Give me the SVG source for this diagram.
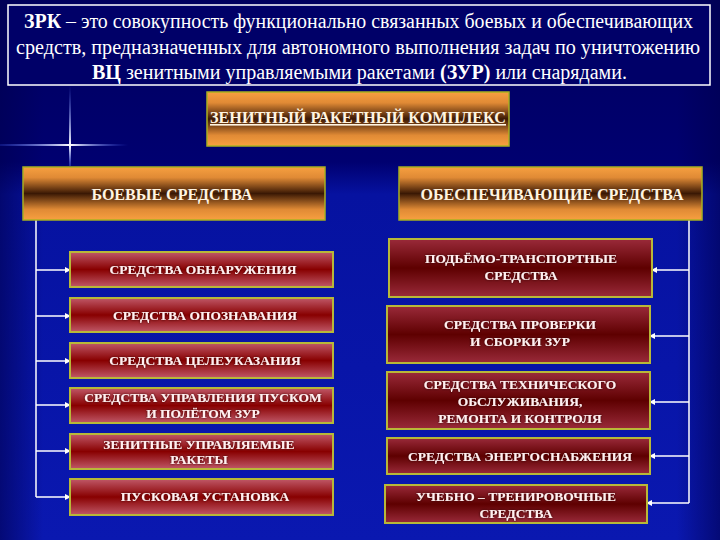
<svg xmlns="http://www.w3.org/2000/svg" width="720" height="540" viewBox="0 0 720 540">
<defs>
<linearGradient id="bg" x1="0" y1="0" x2="0" y2="1">
<stop offset="0" stop-color="#00005e"/>
<stop offset="0.3" stop-color="#000070"/>
<stop offset="0.36" stop-color="#0612a0"/>
<stop offset="1" stop-color="#0a18b0"/>
</linearGradient>
<linearGradient id="bgh" x1="0" y1="0" x2="1" y2="0">
<stop offset="0" stop-color="#000050" stop-opacity="0.6"/>
<stop offset="0.06" stop-color="#000050" stop-opacity="0"/>
<stop offset="0.94" stop-color="#000050" stop-opacity="0"/>
<stop offset="1" stop-color="#000050" stop-opacity="0.6"/>
</linearGradient>
<linearGradient id="orange" x1="0" y1="0" x2="0" y2="1">
<stop offset="0" stop-color="#f7a040"/>
<stop offset="0.2" stop-color="#e08a35"/>
<stop offset="0.5" stop-color="#3a1804"/>
<stop offset="0.8" stop-color="#e08a35"/>
<stop offset="1" stop-color="#f7a040"/>
</linearGradient>
<linearGradient id="redL" x1="0" y1="0" x2="0" y2="1">
<stop offset="0" stop-color="#c05868"/>
<stop offset="0.5" stop-color="#880000"/>
<stop offset="1" stop-color="#c05868"/>
</linearGradient>
<linearGradient id="redR" x1="0" y1="0" x2="0" y2="1">
<stop offset="0" stop-color="#9a2a3a"/>
<stop offset="0.5" stop-color="#5e0000"/>
<stop offset="1" stop-color="#9a2a3a"/>
</linearGradient>
<linearGradient id="flareV" x1="0" y1="0" x2="0" y2="1">
<stop offset="0" stop-color="#6080ff" stop-opacity="0"/>
<stop offset="0.75" stop-color="#ffffff"/>
<stop offset="1" stop-color="#6080ff" stop-opacity="0.3"/>
</linearGradient>
<linearGradient id="flareH" x1="0" y1="0" x2="1" y2="0">
<stop offset="0" stop-color="#4060ff" stop-opacity="0.2"/>
<stop offset="0.55" stop-color="#ffffff"/>
<stop offset="1" stop-color="#4060ff" stop-opacity="0"/>
</linearGradient>
<filter id="sh" x="-10%" y="-30%" width="120%" height="160%">
<feDropShadow dx="0" dy="0" stdDeviation="1" flood-color="#200000" flood-opacity="0.9"/>
</filter>
<marker id="ah" markerWidth="6" markerHeight="6" refX="5" refY="3" orient="auto" markerUnits="userSpaceOnUse">
<path d="M0,0 L6,3 L0,6 z" fill="#ffffff"/>
</marker>
</defs>
<style>
.hdr{font-family:"Liberation Serif","DejaVu Serif",serif;font-size:20px;fill:#ffffff;}
.b{font-weight:bold;}
.obox{fill:url(#orange);stroke:#a8b020;stroke-width:1.5;}
.otx{font-family:"Liberation Serif","DejaVu Serif",serif;font-size:16px;font-weight:bold;fill:#fff4e0;text-anchor:middle;}
.lbox{fill:url(#redL);stroke:#b8b838;stroke-width:2;}
.rbox{fill:url(#redR);stroke:#b8b838;stroke-width:2;}
.tx{font-family:"Liberation Serif","DejaVu Serif",serif;font-size:13.5px;font-weight:bold;fill:#fff0f0;text-anchor:middle;filter:url(#sh);}
.ln{stroke:#ffffff;stroke-width:1.5;fill:none;}
.ar{stroke:#ffffff;stroke-width:1.5;fill:none;marker-end:url(#ah);}
</style>
<rect x="0" y="0" width="720" height="540" fill="url(#bg)"/>
<rect x="0" y="0" width="720" height="540" fill="url(#bgh)"/>
<g id="flare">
<rect x="69" y="86" width="2" height="80" fill="url(#flareV)"/>
<rect x="0" y="144" width="128" height="2" fill="url(#flareH)"/>
</g>
<g id="header">
<rect x="8" y="5" width="702" height="80" fill="#000068" stroke="#ffffff" stroke-width="1.5"/>
<text class="hdr" x="24" y="28" textLength="669" lengthAdjust="spacingAndGlyphs"><tspan class="b">ЗРК</tspan> – это совокупность функционально связанных боевых и обеспечивающих</text>
<text class="hdr" x="16" y="54" textLength="684" lengthAdjust="spacingAndGlyphs">средств, предназначенных для автономного выполнения задач по уничтожению</text>
<text class="hdr" x="92" y="79" textLength="535" lengthAdjust="spacingAndGlyphs"><tspan class="b">ВЦ</tspan> зенитными управляемыми ракетами <tspan class="b">(ЗУР)</tspan> или снарядами.</text>
</g>
<g id="connectors">
<line class="ln" x1="36" y1="220" x2="36" y2="497"/>
<line class="ar" x1="36" y1="270" x2="70" y2="270"/>
<line class="ar" x1="36" y1="316" x2="70" y2="316"/>
<line class="ar" x1="36" y1="361" x2="70" y2="361"/>
<line class="ar" x1="36" y1="405" x2="70" y2="405"/>
<line class="ar" x1="36" y1="451" x2="70" y2="451"/>
<line class="ar" x1="36" y1="497" x2="70" y2="497"/>
<line class="ln" x1="689" y1="220" x2="689" y2="503"/>
<line class="ar" x1="689" y1="270" x2="652" y2="270"/>
<line class="ar" x1="689" y1="336" x2="650" y2="336"/>
<line class="ar" x1="689" y1="402" x2="650" y2="402"/>
<line class="ar" x1="689" y1="456" x2="650" y2="456"/>
<line class="ar" x1="689" y1="503" x2="647" y2="503"/>
</g>
<g id="n-zrk">
<rect class="obox" x="207" y="92" width="302" height="54"/>
<text class="otx" x="358" y="123" text-decoration="underline" textLength="296" lengthAdjust="spacingAndGlyphs">ЗЕНИТНЫЙ РАКЕТНЫЙ КОМПЛЕКС</text>
</g>
<g id="n-boevye">
<rect class="obox" x="23" y="167" width="302" height="53"/>
<text class="otx" x="172" y="200">БОЕВЫЕ СРЕДСТВА</text>
</g>
<g id="n-obesp">
<rect class="obox" x="399" y="167" width="303" height="53"/>
<text class="otx" x="552" y="200">ОБЕСПЕЧИВАЮЩИЕ СРЕДСТВА</text>
</g>
<g id="n-obnar">
<rect class="lbox" x="70" y="252" width="263" height="35"/>
<text class="tx" x="203" y="274">СРЕДСТВА ОБНАРУЖЕНИЯ</text>
</g>
<g id="n-opozn">
<rect class="lbox" x="70" y="298" width="263" height="34"/>
<text class="tx" x="205" y="320">СРЕДСТВА ОПОЗНАВАНИЯ</text>
</g>
<g id="n-tselu">
<rect class="lbox" x="70" y="343" width="263" height="35"/>
<text class="tx" x="205" y="365">СРЕДСТВА ЦЕЛЕУКАЗАНИЯ</text>
</g>
<g id="n-upr">
<rect class="lbox" x="70" y="388" width="263" height="35"/>
<text class="tx" x="203" y="402">СРЕДСТВА УПРАВЛЕНИЯ ПУСКОМ</text>
<text class="tx" x="203" y="418">И ПОЛЁТОМ ЗУР</text>
</g>
<g id="n-zur">
<rect class="lbox" x="70" y="434" width="263" height="35"/>
<text class="tx" x="199" y="449">ЗЕНИТНЫЕ УПРАВЛЯЕМЫЕ</text>
<text class="tx" x="199" y="464">РАКЕТЫ</text>
</g>
<g id="n-pusk">
<rect class="lbox" x="70" y="479" width="263" height="36"/>
<text class="tx" x="205" y="501">ПУСКОВАЯ УСТАНОВКА</text>
</g>
<g id="n-podem">
<rect class="rbox" x="389" y="239" width="263" height="58"/>
<text class="tx" x="521" y="263">ПОДЬЁМО-ТРАНСПОРТНЫЕ</text>
<text class="tx" x="521" y="280">СРЕДСТВА</text>
</g>
<g id="n-prov">
<rect class="rbox" x="387" y="306" width="263" height="57"/>
<text class="tx" x="520" y="329">СРЕДСТВА ПРОВЕРКИ</text>
<text class="tx" x="520" y="346">И СБОРКИ ЗУР</text>
</g>
<g id="n-teh">
<rect class="rbox" x="387" y="372" width="263" height="57"/>
<text class="tx" x="520" y="389">СРЕДСТВА ТЕХНИЧЕСКОГО</text>
<text class="tx" x="520" y="406">ОБСЛУЖИВАНИЯ,</text>
<text class="tx" x="520" y="423">РЕМОНТА И КОНТРОЛЯ</text>
</g>
<g id="n-energo">
<rect class="rbox" x="387" y="438" width="263" height="36"/>
<text class="tx" x="520" y="461">СРЕДСТВА ЭНЕРГОСНАБЖЕНИЯ</text>
</g>
<g id="n-ucheb">
<rect class="rbox" x="385" y="485" width="262" height="38"/>
<text class="tx" x="516" y="501">УЧЕБНО – ТРЕНИРОВОЧНЫЕ</text>
<text class="tx" x="516" y="518">СРЕДСТВА</text>
</g>
</svg>
